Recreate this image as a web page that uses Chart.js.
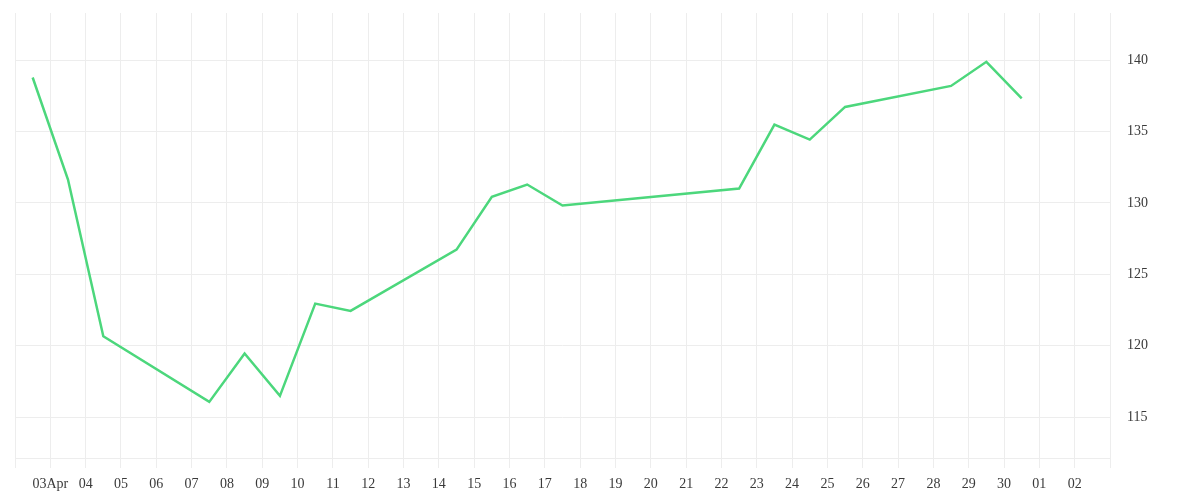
<!DOCTYPE html>
<html>
<head>
<meta charset="utf-8">
<script src="https://cdn.jsdelivr.net/npm/chart.js@4"></script>
<style>
  html, body { margin: 0; padding: 0; background: #fff; }
  #wrap { width: 1200px; height: 500px; }
</style>
</head>
<body>
<div id="wrap"><canvas id="myLineChart"></canvas></div>
<script>
// trading days (closing value at midday)
const dates = [
    '2014-04-02', '2014-04-03', '2014-04-04', '2014-04-07', '2014-04-08',
    '2014-04-09', '2014-04-10', '2014-04-11', '2014-04-14', '2014-04-15',
    '2014-04-16', '2014-04-17', '2014-04-22', '2014-04-23', '2014-04-24',
    '2014-04-25', '2014-04-28', '2014-04-29', '2014-04-30'
];
const prices = [
    138.79, 131.64, 120.66, 116.06, 119.45,
    116.48, 122.95, 122.44, 126.73, 130.43,
    131.29, 129.82, 131.01, 135.49, 134.44,
    136.73, 138.20, 139.89, 137.32
];
// one label per day boundary, from 2 Apr to 3 May
const dayLabels = [
    '', '03Apr', '04', '05', '06', '07', '08', '09', '10', '11', '12',
    '13', '14', '15', '16', '17', '18', '19', '20', '21', '22',
    '23', '24', '25', '26', '27', '28', '29', '30', '01', '02', ''
];
const yTicks = [115, 120, 125, 130, 135, 140];

const firstDay = 2;  // 2 Apr
const monthStart = Date.UTC(2014, 3, 0); // day 0 of April

function toDay(d) {
    return (Date.parse(d + 'T12:00:00Z') - monthStart) / 86400000;
}

const points = dates.map((d, i) => ({ x: toDay(d), y: prices[i] }));

const gridColor = '#ededed';
const font = { family: "'Liberation Serif', serif", size: 14 };

const config = {
    type: 'line',
    data: {
        datasets: [{
            data: points,
            borderColor: '#4cd77c',
            borderWidth: 2.5,
            pointRadius: 0,
            tension: 0,
            fill: false
        }]
    },
    options: {
        responsive: true,
        maintainAspectRatio: false,
        animation: false,
        layout: {
            padding: { left: 15, top: 13, right: 0, bottom: 0 }
        },
        plugins: {
            legend: { display: false },
            tooltip: { enabled: false }
        },
        scales: {
            x: {
                type: 'linear',
                min: firstDay,
                max: firstDay + dayLabels.length - 1,
                afterFit: (scale) => { scale.height = 42; },
                grid: { color: gridColor, tickLength: 10 },
                border: { color: gridColor },
                ticks: {
                    stepSize: 1,
                    autoSkip: false,
                    maxRotation: 0,
                    padding: 8,
                    color: '#3a3a3a',
                    font: font,
                    callback: (value) => dayLabels[value - firstDay]
                }
            },
            y: {
                position: 'right',
                min: 112.13,
                max: 143.31,
                afterFit: (scale) => { scale.width = 90; },
                afterBuildTicks: (scale) => {
                    scale.ticks = yTicks.map(v => ({ value: v }));
                },
                // invisible tick marks just push the labels away from the axis
                grid: { color: gridColor, tickLength: 14, tickColor: 'rgba(0,0,0,0)' },
                border: { color: gridColor },
                ticks: {
                    padding: 3,
                    color: '#3a3a3a',
                    font: font
                }
            }
        }
    }
};

const myLineChart = new Chart(document.getElementById('myLineChart'), config);
</script>
</body>
</html>
